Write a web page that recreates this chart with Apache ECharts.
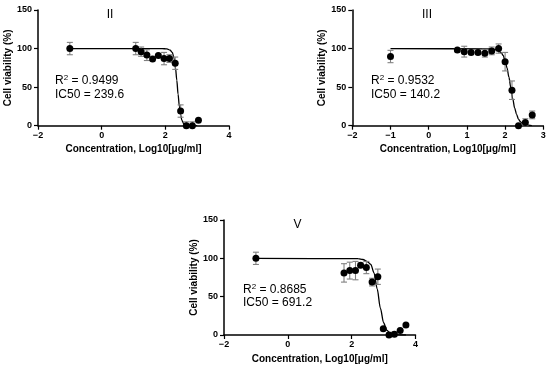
<!DOCTYPE html>
<html>
<head>
<meta charset="utf-8">
<script src="https://cdn.jsdelivr.net/npm/echarts@6/dist/echarts.min.js"></script>
<style>html,body{margin:0;padding:0;background:#fff;}#c{width:550px;height:370px;}</style>
</head>
<body>
<div id="c"></div>
<script>
// ---- Panel II ----
const xII = [-1.0, 1.07, 1.24, 1.42, 1.60, 1.78, 1.96, 2.13, 2.31, 2.48, 2.66, 2.85, 3.04];
const yII = [100, 100, 96, 91.5, 86.5, 91, 87, 87, 81, 19, 0, 0, 7];
const eII = [8, 8, 6, 7, 0, 0, 8, 5, 8, 8, 5, 5, 0];
const cxII = [-1, 1.9, 2.05, 2.15, 2.22, 2.27, 2.32, 2.36, 2.40, 2.44, 2.48, 2.52, 2.58, 2.65, 2.75, 3.0];
const cyII = [100, 100, 99.5, 98, 95, 88, 75, 59, 41, 25, 14, 7, 2.4, 0.8, 0.2, 0];
// ---- Panel III ----
const xIII = [-1.0, 0.75, 0.93, 1.11, 1.29, 1.47, 1.65, 1.83, 2.0, 2.18, 2.35, 2.53, 2.71];
const yIII = [89.7, 98, 96, 95, 95, 94, 97, 100, 83, 46, 0, 4, 14];
const eIII = [8, 2, 7, 2, 2, 5, 5, 6, 12, 12, 0, 5, 5];
const cxIII = [-1, 1.6, 1.7, 1.8, 1.9, 1.95, 2.0, 2.05, 2.1, 2.15, 2.2, 2.25, 2.3, 2.35, 2.4, 2.45, 2.55, 2.7];
const cyIII = [100, 99.7, 99.3, 98, 94.5, 91, 84.5, 75, 63, 49, 35, 23, 14.7, 8.5, 5.2, 2.9, 1, 0.2];
// ---- Panel V ----
const xV = [-1.0, 1.76, 1.94, 2.12, 2.28, 2.46, 2.64, 2.82, 2.99, 3.17, 3.34, 3.52, 3.70];
const yV = [100, 81, 84, 84, 91, 88, 69, 76, 8, 0, 1, 6, 13];
const eV = [8, 12, 11, 12, 3, 8, 5, 10, 0, 3, 3, 0, 0];
const cxV = [-1, 2.2, 2.35, 2.5, 2.6, 2.7, 2.8, 2.9, 3.0, 3.1, 3.2, 3.3, 3.45, 3.7];
const cyV = [100, 99.6, 98.5, 95.5, 92, 81, 60, 35, 16, 6.3, 2.3, 0.8, 0.2, 0];

const panels = [
  {name: 'II', x: xII, y: yII, e: eII, cx: cxII, cy: cyII, xmin: -2, xmax: 4, xint: 2, r2: '0.9499', ic: '239.6'},
  {name: 'III', x: xIII, y: yIII, e: eIII, cx: cxIII, cy: cyIII, xmin: -2, xmax: 3, xint: 1, r2: '0.9532', ic: '140.2'},
  {name: 'V', x: xV, y: yV, e: eV, cx: cxV, cy: cyV, xmin: -2, xmax: 4, xint: 2, r2: '0.8685', ic: '691.2'}
];

const grids = [
  {left: 38, right: 321, top: 10, bottom: 244.3},
  {left: 352.3, right: 6.7, top: 10, bottom: 244.3},
  {left: 224, right: 134.5, top: 220, bottom: 35}
];
const titlePos = [[110, 15], [427, 15], [297.5, 224.5]];
const annPos = [[55, 80.5, 94.3], [371, 80.5, 94.3], [243, 290, 303]];

const FONT = '"Liberation Sans", Arial, sans-serif';
const minusFmt = v => String(v).replace('-', '\u2212');

const xAxes = [], yAxes = [], series = [], graphics = [];
panels.forEach((p, i) => {
  xAxes.push({
    gridIndex: i, type: 'value', min: p.xmin, max: p.xmax, interval: p.xint,
    name: 'Concentration, Log10[\u03bcg/ml]', nameLocation: 'middle', nameGap: 19,
    nameTextStyle: {fontFamily: FONT, fontWeight: 'bold', fontSize: 10, color: '#000'},
    axisLine: {onZero: false, lineStyle: {color: '#000', width: 1.5}},
    axisTick: {show: true, length: 4, lineStyle: {color: '#000', width: 1.2}},
    axisLabel: {fontFamily: FONT, fontWeight: 'bold', fontSize: 9, color: '#000', margin: 5, formatter: minusFmt},
    splitLine: {show: false}
  });
  yAxes.push({
    gridIndex: i, type: 'value', min: 0, max: 150, interval: 50,
    name: 'Cell viability (%)', nameLocation: 'middle', nameGap: 22, nameRotate: 90,
    nameTextStyle: {fontFamily: FONT, fontWeight: 'bold', fontSize: 10, color: '#000'},
    axisLine: {show: true, onZero: false, lineStyle: {color: '#000', width: 1.5}},
    axisTick: {show: true, length: 4, lineStyle: {color: '#000', width: 1.2}},
    axisLabel: {fontFamily: FONT, fontWeight: 'bold', fontSize: 9, color: '#000', margin: 6},
    splitLine: {show: false}
  });
  series.push({
    type: 'line', xAxisIndex: i, yAxisIndex: i, showSymbol: false, symbol: 'none',
    smooth: 0.3, smoothMonotone: 'x', silent: true, z: 2,
    lineStyle: {color: '#000', width: 1.3},
    data: p.cx.map((v, k) => [v, p.cy[k]])
  });
  series.push({
    type: 'custom', xAxisIndex: i, yAxisIndex: i, silent: true, z: 3,
    data: p.x.map((v, k) => [v, p.y[k], p.e[k]]),
    renderItem: function (params, api) {
      const xv = api.value(0), yv = api.value(1), ev = api.value(2);
      if (!ev) return null;
      const top = api.coord([xv, yv + ev]);
      const bot = api.coord([xv, Math.max(0, yv - ev)]);
      const hw = 3;
      const st = {stroke: '#808080', lineWidth: 1.1};
      return {type: 'group', children: [
        {type: 'line', shape: {x1: top[0], y1: top[1], x2: bot[0], y2: bot[1]}, style: st},
        {type: 'line', shape: {x1: top[0] - hw, y1: top[1], x2: top[0] + hw, y2: top[1]}, style: st},
        {type: 'line', shape: {x1: bot[0] - hw, y1: bot[1], x2: bot[0] + hw, y2: bot[1]}, style: st}
      ]};
    }
  });
  series.push({
    type: 'scatter', xAxisIndex: i, yAxisIndex: i, symbol: 'circle', symbolSize: 7, z: 4,
    itemStyle: {color: '#000', opacity: 1},
    data: p.x.map((v, k) => [v, p.y[k]])
  });
  graphics.push({
    type: 'text', x: titlePos[i][0], y: titlePos[i][1], z: 10,
    style: {text: p.name, align: 'center', verticalAlign: 'middle', fontFamily: FONT, fontSize: 12, fill: '#000'}
  });
  graphics.push({
    type: 'text', x: annPos[i][0], y: annPos[i][1], z: 10,
    style: {
      text: 'R{sup|2} = ' + p.r2, verticalAlign: 'middle', fontFamily: FONT, fontSize: 12, fill: '#000',
      rich: {sup: {fontSize: 8, verticalAlign: 'top', padding: [0, 0, 6, 0], fontFamily: FONT, fill: '#000'}}
    }
  });
  graphics.push({
    type: 'text', x: annPos[i][0], y: annPos[i][2], z: 10,
    style: {text: 'IC50 = ' + p.ic, verticalAlign: 'middle', fontFamily: FONT, fontSize: 12, fill: '#000'}
  });
});

const chart = echarts.init(document.getElementById('c'), null, {renderer: 'canvas'});
chart.setOption({
  animation: false,
  backgroundColor: '#fff',
  grid: grids,
  xAxis: xAxes,
  yAxis: yAxes,
  series: series,
  graphic: graphics
});
</script>
</body>
</html>
